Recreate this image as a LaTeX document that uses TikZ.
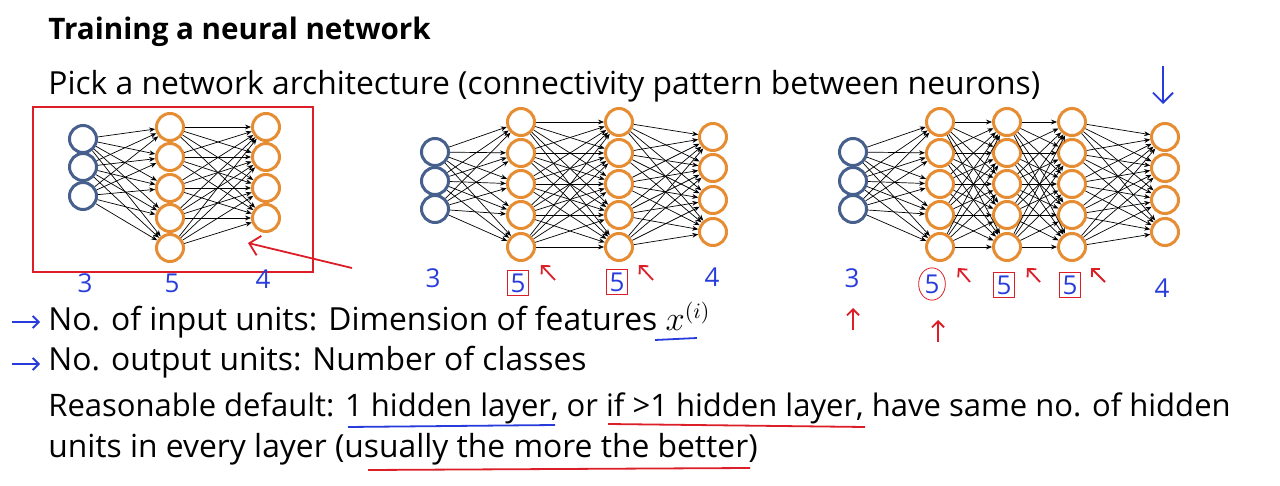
\documentclass[tikz,border=0pt]{standalone}
\usepackage{fontspec}
\setmainfont{Open Sans}
\usetikzlibrary{arrows.meta,shapes.geometric}
\definecolor{ob}{RGB}{230,140,50}
\definecolor{bb}{RGB}{70,95,140}
\definecolor{hb}{RGB}{40,60,220}
\definecolor{hr}{RGB}{220,30,40}
\tikzset{
 inp/.style={circle,draw=bb,line width=1.5pt,minimum size=13.5pt,inner sep=0pt,fill=white},
 hid/.style={circle,draw=ob,line width=1.5pt,minimum size=13.5pt,inner sep=0pt,fill=white},
 con/.style={-{Stealth[length=3pt,width=2.4pt]},line width=0.35pt,black},
 hw/.style={font=\fontsize{13}{13}\selectfont,text=hb},
 txt/.style={anchor=west,font=\fontsize{15.9}{18}\selectfont,inner sep=0pt},
 red/.style={draw=hr,line width=0.9pt},
 blu/.style={draw=hb,line width=0.9pt},
}
\begin{document}
\begin{tikzpicture}[x=0.5pt,y=-0.5pt]
\useasboundingbox (0,0) rectangle (1280,486);
\newcommand\mylayer[4]{\foreach \yy [count=\i] in {#4} {\node[#2] (#1\i) at (#3,\yy) {};}}
\newcommand\myconn[4]{\foreach \i in {1,...,#2} {\foreach \j in {1,...,#4} {\draw[con] (#1\i) -- (#3\j);}}}
% network 1
\mylayer{a}{inp}{83}{139,167,196}
\mylayer{b}{hid}{170}{127,157,188,218,248}
\mylayer{c}{hid}{266}{127,157,188,218}
\myconn{a}{3}{b}{5}\myconn{b}{5}{c}{4}
% network 2
\mylayer{d}{inp}{435}{152,181,209}
\mylayer{e}{hid}{521}{122,153,184,215,247}
\mylayer{f}{hid}{619}{122,153,184,215,247}
\mylayer{g}{hid}{713}{137,168,200,232}
\myconn{d}{3}{e}{5}\myconn{e}{5}{f}{5}\myconn{f}{5}{g}{4}
% network 3
\mylayer{h}{inp}{853}{152,181,209}
\mylayer{k}{hid}{940}{122,153,184,215,247}
\mylayer{l}{hid}{1007}{122,153,184,215,247}
\mylayer{m}{hid}{1072}{122,153,184,215,247}
\mylayer{n}{hid}{1165}{137,168,200,232}
\myconn{h}{3}{k}{5}\myconn{k}{5}{l}{5}\myconn{l}{5}{m}{5}\myconn{m}{5}{n}{4}
% annotations network 1
\draw[red] (33,107) rectangle (313,272);
\coordinate (r1s) at (352,268); \coordinate (r1e) at (248,243);
\draw[red,-{Straight Barb[length=5pt]}] (r1s) -- (r1e);
\node[hw] (l1) at (85,283) {3};
\node[hw] (l2) at (172,283) {5};
\node[hw] (l3) at (263,279) {4};
% network 2
\node[hw] (l4) at (433,278) {3};
\node[hw,draw=hr,inner sep=1.5pt] (l5) at (518,283) {5};
\node[hw,draw=hr,inner sep=1.5pt] (l6) at (617,282) {5};
\node[hw] (l7) at (712,277) {4};
\coordinate (a1) at (555,280); \coordinate (a1e) at (541,265);
\draw[red,-{Straight Barb[length=3pt]}] (a1) -- (a1e);
\coordinate (a2) at (653,280); \coordinate (a2e) at (639,265);
\draw[red,-{Straight Barb[length=3pt]}] (a2) -- (a2e);
% network 3
\node[hw] (l8) at (852,278) {3};
\node[hw,draw=hr,ellipse,inner sep=1pt] (l9) at (932,284) {5};
\node[hw,draw=hr,inner sep=1.5pt] (l10) at (1004,285) {5};
\node[hw,draw=hr,inner sep=1.5pt] (l11) at (1070,285) {5};
\node[hw] (l12) at (1162,288) {4};
\coordinate (b1) at (970,282); \coordinate (b1e) at (958,268);
\draw[red,-{Straight Barb[length=3pt]}] (b1) -- (b1e);
\coordinate (b2) at (1040,282); \coordinate (b2e) at (1027,268);
\draw[red,-{Straight Barb[length=3pt]}] (b2) -- (b2e);
\coordinate (b3) at (1105,282); \coordinate (b3e) at (1091,268);
\draw[red,-{Straight Barb[length=3pt]}] (b3) -- (b3e);
\coordinate (b4) at (853,330); \coordinate (b4e) at (853,308);
\draw[red,-{Straight Barb[length=3pt]}] (b4) -- (b4e);
\coordinate (b5) at (938,342); \coordinate (b5e) at (938,320);
\draw[red,-{Straight Barb[length=3pt]}] (b5) -- (b5e);
\coordinate (d1) at (1163,66); \coordinate (d1e) at (1163,104);
\draw[blu,-{Straight Barb[length=5pt]}] (d1) -- (d1e);
% text
\node[txt,font=\fontsize{14.8}{17}\selectfont\bfseries] (t0) at (48,32) {Training a neural network};
\node[txt] (t1) at (48,86) {Pick a network architecture (connectivity pattern between neurons)};
\node[txt] (t2) at (48,320) {No. of input units: Dimension of features $x^{(i)}$};
\node[txt] (t3) at (48,362) {No. output units: Number of classes};
\node[txt,font=\fontsize{15.5}{18}\selectfont] (t4) at (48,408) {Reasonable default: 1 hidden layer, or if >1 hidden layer, have same no. of hidden};
\node[txt] (t5) at (48,449) {units in every layer (usually the more the better)};
\coordinate (p1) at (12,322); \coordinate (p1e) at (40,322);
\draw[blu,-{Straight Barb[length=3pt]}] (p1) -- (p1e);
\coordinate (p2) at (12,364); \coordinate (p2e) at (40,364);
\draw[blu,-{Straight Barb[length=3pt]}] (p2) -- (p2e);
\coordinate (u1) at (655,340); \coordinate (u1e) at (697,338);
\draw[blu] (u1) -- (u1e);
\coordinate (u2) at (348,427); \coordinate (u2e) at (555,425);
\draw[blu] (u2) -- (u2e);
\coordinate (u3) at (608,424); \coordinate (u3e) at (865,427);
\draw[red] (u3) -- (u3e);
\coordinate (u4) at (368,470); \coordinate (u4e) at (750,468);
\draw[red] (u4) -- (u4e);
\end{tikzpicture}
\end{document}
